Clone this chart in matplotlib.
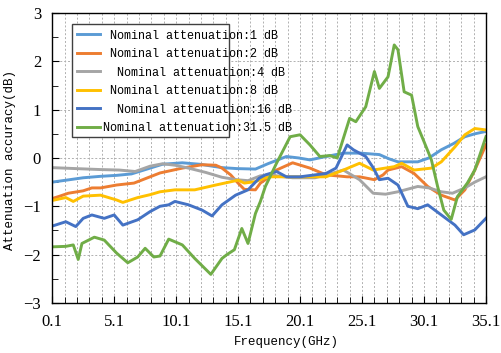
import numpy as np
import matplotlib
matplotlib.use("Agg")
import matplotlib.pyplot as plt
from matplotlib.patches import Rectangle

plt.rcParams['font.family'] = ['Liberation Mono', 'DejaVu Sans Mono']

### data (frequency in GHz, accuracy in dB)
f_1db = [0.1, 1.5, 2.6, 4.0, 5.3, 6.5, 8.0, 9.0, 10.6, 12.0, 13.8, 15.0, 16.5, 17.5, 19.0, 20.0, 20.9,
         22.2, 23.6, 25.0, 26.5, 27.3, 28.0, 29.6, 30.5, 31.5, 32.5, 33.4, 34.2, 35.1]
a_1db = [-0.50, -0.45, -0.41, -0.38, -0.36, -0.33, -0.21, -0.13, -0.10, -0.13, -0.20, -0.22, -0.23, -0.12,
         0.03, 0.00, -0.04, 0.03, 0.10, 0.10, 0.07, -0.02, -0.08, -0.08, 0.00, 0.17, 0.30, 0.44, 0.50, 0.55]

f_2db = [0.1, 0.6, 1.4, 2.6, 3.3, 4.0, 5.3, 6.7, 8.0, 8.8, 10.6, 12.2, 13.3, 13.8, 14.5, 15.1, 15.6, 16.5,
         16.9, 17.3, 18.2, 19.5, 20.9, 22.2, 23.9, 24.9, 26.1, 26.8, 27.2, 28.3, 29.3, 30.4, 31.5, 32.6,
         33.4, 34.2, 35.1]
a_2db = [-0.84, -0.80, -0.73, -0.68, -0.62, -0.62, -0.56, -0.52, -0.39, -0.31, -0.21, -0.14, -0.15, -0.21,
         -0.35, -0.52, -0.65, -0.66, -0.52, -0.45, -0.25, -0.10, -0.21, -0.35, -0.39, -0.39, -0.45, -0.35,
         -0.25, -0.18, -0.32, -0.59, -0.77, -0.87, -0.66, -0.25, 0.27]

f_4db = [0.1, 2.0, 4.0, 5.5, 6.8, 8.0, 9.0, 10.0, 11.1, 12.5, 13.8, 15.0, 15.9, 16.9, 17.7, 18.5, 19.5,
         21.3, 22.5, 23.6, 24.9, 26.0, 27.0, 28.0, 29.6, 30.5, 31.5, 32.4, 33.4, 34.2, 35.1]
a_4db = [-0.20, -0.22, -0.24, -0.25, -0.28, -0.17, -0.12, -0.15, -0.21, -0.30, -0.40, -0.45, -0.47, -0.37,
         -0.35, -0.38, -0.41, -0.41, -0.33, -0.25, -0.45, -0.73, -0.75, -0.70, -0.59, -0.62, -0.70, -0.73,
         -0.62, -0.50, -0.39]

f_8db = [0.1, 1.2, 1.8, 2.6, 4.0, 5.3, 5.8, 7.0, 8.0, 8.8, 10.0, 11.6, 13.3, 15.1, 15.6, 16.5, 17.3, 17.8,
         19.5, 22.2, 23.6, 24.9, 26.0, 27.7, 28.3, 29.3, 30.7, 31.5, 32.6, 33.4, 34.2, 35.1]
a_8db = [-0.88, -0.82, -0.90, -0.79, -0.77, -0.87, -0.92, -0.82, -0.76, -0.70, -0.66, -0.66, -0.56, -0.46,
         -0.52, -0.49, -0.41, -0.39, -0.39, -0.39, -0.25, -0.11, -0.25, -0.18, -0.11, -0.25, -0.21, -0.08,
         0.23, 0.48, 0.61, 0.58]

f_16db = [0.1, 1.2, 2.0, 2.6, 3.3, 4.3, 5.1, 5.8, 7.0, 8.0, 8.8, 9.5, 10.0, 11.1, 12.2, 13.0, 13.8, 14.9,
          15.9, 16.8, 17.3, 18.2, 19.0, 20.1, 22.2, 23.0, 23.9, 24.4, 25.4, 26.0, 26.5, 27.2, 28.0, 28.8,
          29.6, 30.4, 31.5, 32.6, 33.3, 34.2, 35.1]
a_16db = [-1.41, -1.32, -1.42, -1.25, -1.18, -1.25, -1.18, -1.39, -1.28, -1.11, -1.00, -0.97, -0.90, -0.97,
          -1.08, -1.20, -0.97, -0.77, -0.66, -0.42, -0.35, -0.28, -0.39, -0.39, -0.32, -0.21, 0.27, 0.17,
          0.03, -0.20, -0.45, -0.42, -0.56, -1.00, -1.05, -0.97, -1.18, -1.39, -1.59, -1.49, -1.25]

f_315db = [0.1, 1.2, 1.8, 2.2, 2.5, 3.5, 4.3, 5.3, 6.2, 7.0, 7.6, 8.3, 8.8, 9.5, 10.6, 11.6, 12.9, 13.8,
           14.2, 14.8, 15.4, 15.9, 16.5, 16.9, 17.3, 18.2, 19.3, 20.1, 20.9, 21.7, 22.5, 23.1, 24.1, 24.6,
           25.4, 26.1, 26.5, 27.2, 27.7, 28.0, 28.5, 29.1, 29.6, 30.1, 30.7, 31.2, 31.7, 32.3, 32.8, 33.6,
           34.2, 35.1]
a_315db = [-1.84, -1.83, -1.80, -2.10, -1.77, -1.64, -1.70, -1.97, -2.17, -2.05, -1.87, -2.05, -2.03, -1.68,
           -1.80, -2.08, -2.41, -2.08, -2.00, -1.90, -1.46, -1.77, -1.15, -0.90, -0.59, -0.11, 0.44, 0.48,
           0.27, 0.03, 0.05, 0.00, 0.82, 0.75, 1.06, 1.79, 1.44, 1.68, 2.34, 2.24, 1.37, 1.30, 0.65, 0.34,
           -0.04, -0.59, -1.08, -1.27, -0.80, -0.52, -0.25, 0.44]

labels = [' Nominal attenuation:1 dB', ' Nominal attenuation:2 dB', '  Nominal attenuation:4 dB',
          ' Nominal attenuation:8 dB', '  Nominal attenuation:16 dB', 'Nominal attenuation:31.5 dB']
colors = ['#5B9BD5', '#ED7D31', '#A5A5A5', '#FFC000', '#4472C4', '#70AD47']
xticks = [0.1, 5.1, 10.1, 15.1, 20.1, 25.1, 30.1, 35.1]

fig = plt.figure(figsize=(5.02, 3.53), dpi=100)
ax = fig.add_axes([0.104, 0.142, 0.864, 0.821])

series = [(f_1db, a_1db), (f_2db, a_2db), (f_4db, a_4db), (f_8db, a_8db), (f_16db, a_16db), (f_315db, a_315db)]
for (f, a), lab, c in zip(series, labels, colors):
    ax.plot(f, a, color=c, lw=2.1, label=lab, solid_joinstyle='round')

ax.set_xlim(0.1, 35.1)
ax.set_ylim(-3, 3)
ax.set_xticks(xticks)
ax.set_xticklabels([str(t) for t in xticks])
ax.set_xticks(np.arange(0.1, 35.2, 1.0), minor=True)
ax.set_yticks(np.arange(-3, 4, 1))
ax.set_yticks(np.arange(-3, 3.1, 0.5), minor=True)
ax.tick_params(which='both', direction='in', top=False, right=False, colors='black')
ax.tick_params(which='major', length=5)
ax.tick_params(which='minor', length=4)
ax.tick_params(axis='x', which='major', pad=8)
ax.tick_params(axis='y', which='major', pad=8)
# tick digits are tall in the reference, a serif face fits them better
for t in ax.get_xticklabels() + ax.get_yticklabels():
    t.set_fontfamily('Liberation Serif')
    t.set_fontsize(12)
ax.xaxis.grid(True, which='both', ls=(0, (2, 2)), color='#b0b0b0', lw=0.7)
ax.yaxis.grid(True, which='major', ls=(0, (2, 2)), color='#b0b0b0', lw=0.7)
ax.set_axisbelow(True)
for s in ax.spines.values():
    s.set_color('black')
    s.set_linewidth(1.0)

ax.set_xlabel('Frequency(GHz)', fontsize=9)
ax.xaxis.set_label_coords(0.539, -0.115)
ax.set_ylabel('Attenuation accuracy(dB)', fontsize=9)
ax.yaxis.set_label_coords(-0.084, 0.493)

# legend frame in excel is narrower than the text, so draw it by hand
leg = ax.legend(loc='upper left', bbox_to_anchor=(0.058, 0.943), frameon=False, fontsize=8.5,
                handlelength=1.9, handletextpad=0.3, labelspacing=0.55, borderpad=0, borderaxespad=0)
ax.add_patch(Rectangle((0.045, 0.573), 0.362, 0.389, transform=ax.transAxes, fill=True,
                       facecolor='white', edgecolor='#404040', lw=1.0, zorder=4))
leg.set_zorder(5)

fig.savefig('out.png', dpi=100)
